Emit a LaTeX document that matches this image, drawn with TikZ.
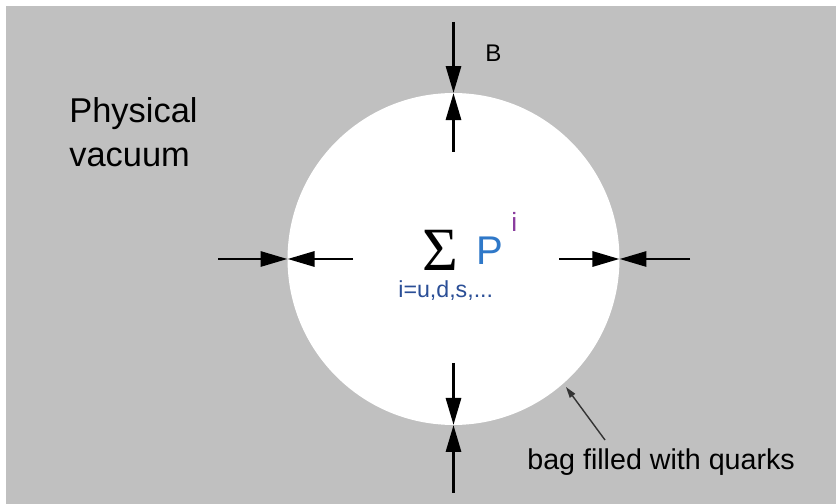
\documentclass[tikz,border=0pt]{standalone}
\usepackage{fontspec}
\setmainfont{Liberation Sans}
\newfontfamily\sigmafont{Liberation Serif}
\usepackage{tikz}
\usetikzlibrary{arrows.meta,positioning}
\definecolor{vacuumGray}{HTML}{C0C0C0}
\definecolor{quarkBlue}{HTML}{2F78C8}
\definecolor{flavourPurple}{HTML}{8A3C9E}
\definecolor{indexBlue}{HTML}{2A4E96}
\tikzset{
  bag/.style={
    circle, fill=white, draw=none,
    minimum size=6.64cm, inner sep=0pt, outer sep=0pt
  },
  push/.style={-{Triangle[length=0.54cm,width=0.30cm]}, line width=1.7pt, draw=black},
  pointer/.style={-{Triangle[length=0.22cm,width=0.13cm]}, line width=0.8pt, draw=black!80},
  label/.style={inner sep=0pt, font=\fontsize{16.3pt}{18pt}\selectfont}
}
\begin{document}
\begin{tikzpicture}[x=0.02cm,y=0.02cm]
  \useasboundingbox (0,0) rectangle (836,504);
  % physical vacuum around the bag
  \fill[vacuumGray] (6,0) rectangle (836,498);
  \node[bag] (bag) at (453.5,245) {};

  % text in the vacuum
  \node[label, anchor=base west, font=\fontsize{19.6pt}{25pt}\selectfont] (phys) at (69,381) {Physical};
  \node[label, anchor=base west, font=\fontsize{19.6pt}{25pt}\selectfont] (vac) at (69,337) {vacuum};
  \node[label, anchor=base west, font=\fontsize{13.7pt}{16pt}\selectfont] (bpress) at (485,442) {B};

  % sum over the quark flavours
  \node[inner sep=0pt, font=\sigmafont\fontsize{35pt}{37pt}\selectfont] (sum) at (440,254) {Σ};
  \node[label, anchor=base west, text=quarkBlue, font=\fontsize{22.8pt}{26pt}\selectfont] (press) at (476,239) {P};
  \node[label, anchor=base west, text=flavourPurple, font=\fontsize{15pt}{17pt}\selectfont] (flav) at (511,272) {i};
  \node[label, anchor=base west, text=indexBlue, font=\fontsize{13.2pt}{15pt}\selectfont] (index) at (398,206) {i=u,d,s,...};

  % bag pressure against the vacuum
  \coordinate (topout) at (453.5,482);
  \coordinate (topin)  at (453.5,352);
  \coordinate (botin)  at (453.5,141);
  \coordinate (botout) at (453.5,11);
  \coordinate (leftout) at (218,245);
  \coordinate (leftin)  at (353,245);
  \coordinate (rightin)  at (559,245);
  \coordinate (rightout) at (690,245);
  \draw[push] (topout) -- (bag.north);
  \draw[push] (topin) -- (bag.north);
  \draw[push] (botin) -- (bag.south);
  \draw[push] (botout) -- (bag.south);
  \draw[push] (leftout) -- (bag.west);
  \draw[push] (leftin) -- (bag.west);
  \draw[push] (rightin) -- (bag.east);
  \draw[push] (rightout) -- (bag.east);

  % bag label
  \node[label, anchor=base west] (quarks) at (527,34) {bag filled with quarks};
  \coordinate (ptail) at (605,64);
  \coordinate (ptip) at (566,117);
  \draw[pointer] (ptail) -- (ptip);
\end{tikzpicture}
\end{document}
